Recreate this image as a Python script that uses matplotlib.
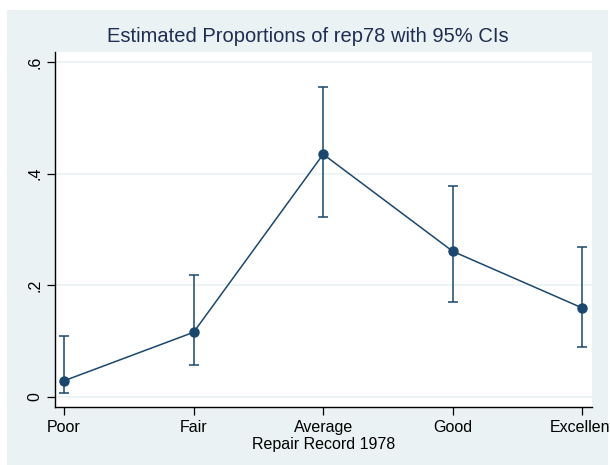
import matplotlib.pyplot as plt
from matplotlib.patches import Rectangle

plt.rcParams['font.family'] = ['Liberation Sans', 'DejaVu Sans']

categories = ['Poor', 'Fair', 'Average', 'Good', 'Excellent']
proportions = [0.0290, 0.1159, 0.4348, 0.2609, 0.1594]
ci_low = [0.0072, 0.0581, 0.3228, 0.1700, 0.0895]
ci_high = [0.1093, 0.2181, 0.5545, 0.3786, 0.2682]
yticks = [0, 0.2, 0.4, 0.6]
ytick_labels = ['0', '.2', '.4', '.6']

navy = '#1a476f'
bg = '#eaf2f3'

fig = plt.figure(figsize=(6.1, 4.65), dpi=100)
fig.patches.append(Rectangle((7 / 610, 0), 601 / 610, 455 / 465,
                             transform=fig.transFigure, facecolor=bg,
                             edgecolor='none', zorder=-10))

ax = fig.add_axes([55 / 610, 58 / 465, 537 / 610, 355 / 465])
ax.set_facecolor('white')

x = list(range(1, len(categories) + 1))
err_lo = [p - l for p, l in zip(proportions, ci_low)]
err_hi = [h - p for p, h in zip(proportions, ci_high)]
ax.errorbar(x, proportions, yerr=[err_lo, err_hi], fmt='none', ecolor=navy,
            elinewidth=1.1, capsize=3.8, capthick=1.1, zorder=3)
ax.plot(x, proportions, color=navy, lw=1.1, marker='o', markersize=6.5,
        markerfacecolor=navy, markeredgecolor=navy, zorder=4)

ax.set_xlim(0.93, 5.075)
ax.set_ylim(-0.018, 0.618)
ax.set_yticks(yticks)
ax.set_yticklabels(ytick_labels, rotation=90, va='center')
ax.set_xticks(x)
ax.set_xticklabels(categories)
ax.grid(axis='y', color=bg, lw=1.2)
ax.set_axisbelow(True)

for s in ['top', 'right']:
    ax.spines[s].set_visible(False)
for s in ['left', 'bottom']:
    ax.spines[s].set_linewidth(1.0)
ax.tick_params(axis='both', direction='out', length=6, width=0.9,
               labelsize=11.5, colors='black', pad=3)

ax.set_xlabel('Repair Record 1978', fontsize=11.5, labelpad=1.5)
fig.text(308 / 610, 1 - 37 / 465, 'Estimated Proportions of rep78 with 95% CIs',
         ha='center', va='center', fontsize=14.5, color='#1e2d52')

fig.savefig('out.png', dpi=100)
